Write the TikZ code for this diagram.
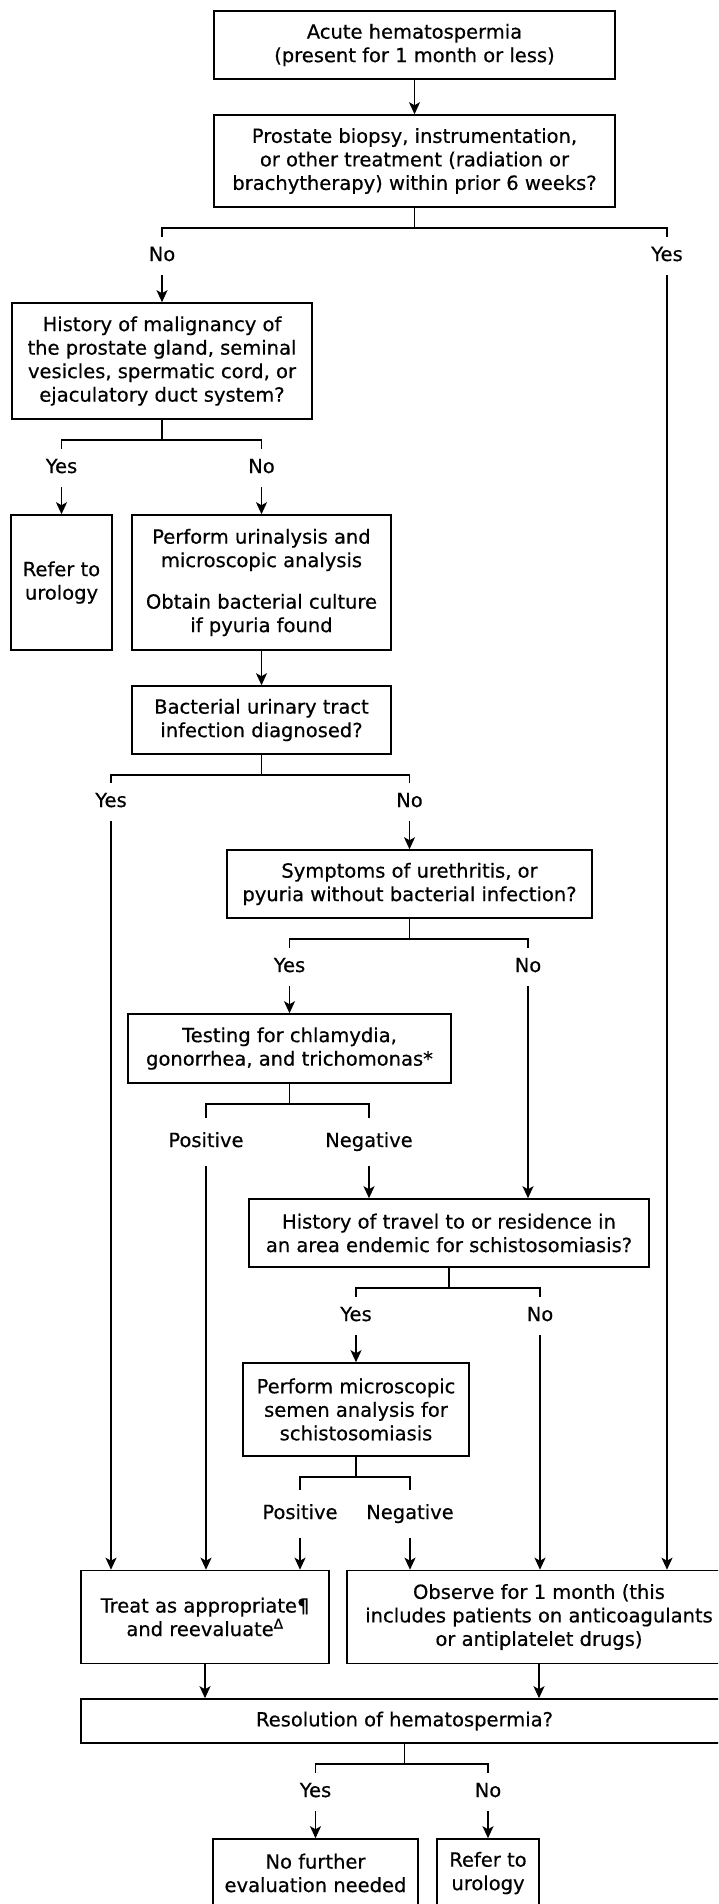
\documentclass[tikz,border=0pt]{standalone}
\usepackage{fontspec}
\setmainfont[FakeBold=0.5]{DejaVu Sans}
\usetikzlibrary{arrows.meta}
\begin{document}
\begin{tikzpicture}[x=1pt, y=-1pt, line width=1.6pt,
    font=\fontsize{19.5}{23.5}\selectfont,
    >={Stealth[length=12pt,width=11pt,inset=3pt]},
    box/.style={draw, align=center, inner sep=0pt},
    answer/.style={inner sep=0pt, text height=14pt, text depth=4pt, minimum height=36pt},
    result/.style={answer, minimum height=46pt} ]
    \clip (0,0) rectangle (718,1904);
    \node at (414.5,45) [box,minimum width=401pt,minimum height=68pt] (acute) {Acute hematospermia\\(present for 1 month or less)};
    \node at (414.5,161) [box,minimum width=401pt,minimum height=92pt] (biopsy) {Prostate biopsy, instrumentation,\\or other treatment (radiation or\\brachytherapy) within prior 6 weeks?};
    \node at (162,361) [box,minimum width=300pt,minimum height=116pt] (malig) {History of malignancy of\\the prostate gland, seminal\\vesicles, spermatic cord, or\\ejaculatory duct system?};
    \node at (61.5,582.5) [box,minimum width=101pt,minimum height=135pt] (referA) {Refer to\\urology};
    \node at (261.5,582.5) [box,minimum width=259pt,minimum height=135pt] (urin) {Perform urinalysis and\\microscopic analysis\\[18pt]Obtain bacterial culture\\if pyuria found};
    \node at (261.5,720) [box,minimum width=259pt,minimum height=68pt] (uti) {Bacterial urinary tract\\infection diagnosed?};
    \node at (409.5,884) [box,minimum width=365pt,minimum height=68pt] (urethr) {Symptoms of urethritis, or\\pyuria without bacterial infection?};
    \node at (289.5,1048.5) [box,minimum width=323pt,minimum height=69pt] (sti) {Testing for chlamydia,\\gonorrhea, and trichomonas*};
    \node at (449,1233) [box,minimum width=400pt,minimum height=68pt] (travel) {History of travel to or residence in\\an area endemic for schistosomiasis?};
    \node at (356,1409.5) [box,minimum width=226pt,minimum height=93pt] (semen) {Perform microscopic\\semen analysis for\\schistosomiasis};
    \node at (205,1617) [box,minimum width=248pt,minimum height=93pt] (treat) {Treat as appropriate¶\\and reevaluate\textsuperscript{Δ}};
    \node at (539,1617) [box,minimum width=384pt,minimum height=93pt] (observe) {Observe for 1 month (this\\includes patients on anticoagulants\\or antiplatelet drugs)};
    \node at (404.5,1721) [box,minimum width=647pt,minimum height=44pt] (resol) {Resolution of hematospermia?};
    \node at (315.5,1873) [box,minimum width=205pt,minimum height=68pt] (nofurther) {No further\\evaluation needed};
    \node at (488,1873) [box,minimum width=102pt,minimum height=68pt] (referB) {Refer to\\urology};
    % answers
    \node at (162,256) [answer] (no1) {No};
    \node at (667,256) [answer] (yes1) {Yes};
    \node at (61.5,468) [answer] (yes2) {Yes};
    \node at (261.5,468) [answer] (no2) {No};
    \node at (111,802) [answer] (yes3) {Yes};
    \node at (409.5,802) [answer] (no3) {No};
    \node at (289.5,967) [answer] (yes4) {Yes};
    \node at (528,967) [answer] (no4) {No};
    \node at (206,1142) [result] (pos1) {Positive};
    \node at (369,1142) [result] (neg1) {Negative};
    \node at (356,1316) [answer] (yes5) {Yes};
    \node at (540,1316) [answer] (no5) {No};
    \node at (300,1514) [result] (pos2) {Positive};
    \node at (410,1514) [result] (neg2) {Negative};
    \node at (315.5,1792) [answer] (yes6) {Yes};
    \node at (488,1792) [answer] (no6) {No};
    % branches
    \draw (biopsy.south) -- ++(0,20) -| (no1.north);
    \draw (biopsy.south) -- ++(0,20) -| (yes1.north);
    \draw (malig.south) -- ++(0,20) -| (yes2.north);
    \draw (malig.south) -- ++(0,20) -| (no2.north);
    \draw (uti.south) -- ++(0,20) -| (yes3.north);
    \draw (uti.south) -- ++(0,20) -| (no3.north);
    \draw (urethr.south) -- ++(0,20) -| (yes4.north);
    \draw (urethr.south) -- ++(0,20) -| (no4.north);
    \draw (sti.south) -- ++(0,20) -| (pos1.north);
    \draw (sti.south) -- ++(0,20) -| (neg1.north);
    \draw (travel.south) -- ++(0,20) -| (yes5.north);
    \draw (travel.south) -- ++(0,20) -| (no5.north);
    \draw (semen.south) -- ++(0,20) -| (pos2.north);
    \draw (semen.south) -- ++(0,20) -| (neg2.north);
    \draw (resol.south) -- ++(0,20) -| (yes6.north);
    \draw (resol.south) -- ++(0,20) -| (no6.north);
    % arrows
    \draw [->] (acute) to (biopsy);
    \draw [->] (no1.south) -- (no1.south |- malig.north);
    \draw [->] (yes2.south) -- (yes2.south |- referA.north);
    \draw [->] (no2.south) -- (no2.south |- urin.north);
    \draw [->] (urin) to (uti);
    \draw [->] (no3.south) -- (no3.south |- urethr.north);
    \draw [->] (yes4.south) -- (yes4.south |- sti.north);
    \draw [->] (neg1.south) -- (neg1.south |- travel.north);
    \draw [->] (no4.south) -- (no4.south |- travel.north);
    \draw [->] (yes5.south) -- (yes5.south |- semen.north);
    \draw [->] (yes3.south) -- (yes3.south |- treat.north);
    \draw [->] (pos1.south) -- (pos1.south |- treat.north);
    \draw [->] (pos2.south) -- (pos2.south |- treat.north);
    \draw [->] (neg2.south) -- (neg2.south |- observe.north);
    \draw [->] (no5.south) -- (no5.south |- observe.north);
    \draw [->] (yes1.south) -- (yes1.south |- observe.north);
    \draw [->] (treat.south) -- (treat.south |- resol.north);
    \draw [->] (observe.south) -- (observe.south |- resol.north);
    \draw [->] (yes6.south) -- (yes6.south |- nofurther.north);
    \draw [->] (no6.south) -- (no6.south |- referB.north);
\end{tikzpicture}
\end{document}
